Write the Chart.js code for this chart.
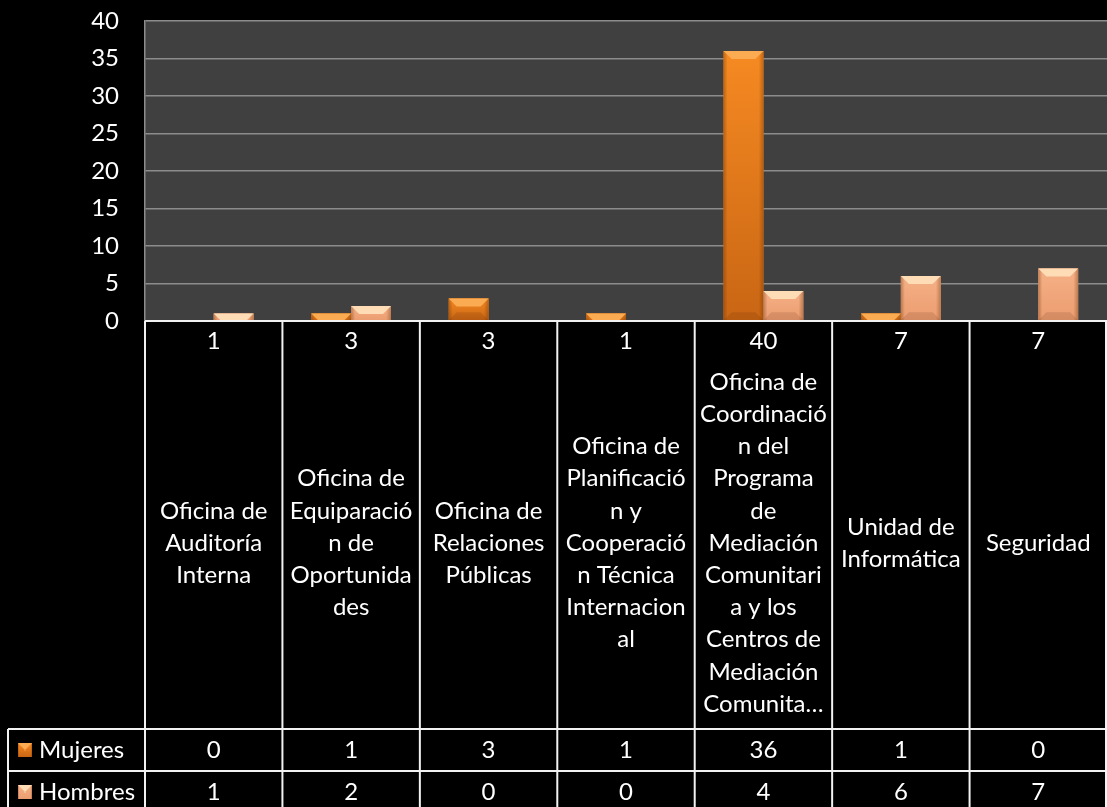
<!DOCTYPE html>
<html>
<head>
<meta charset="utf-8">
<script src="https://cdn.jsdelivr.net/npm/chart.js@4.4.1/dist/chart.umd.min.js"></script>
<style>
  html, body { margin: 0; padding: 0; background: #000; }
  #wrap { width: 1107px; height: 807px; }
</style>
</head>
<body>
<div id="wrap"><canvas id="myChart" width="1107" height="807"></canvas></div>
<script>
// categories as they wrap in the data table
var categorias = [
  ["Oficina de", "Auditoría", "Interna"],
  ["Oficina de", "Equiparació", "n de", "Oportunida", "des"],
  ["Oficina de", "Relaciones", "Públicas"],
  ["Oficina de", "Planificació", "n y", "Cooperació", "n Técnica", "Internacion", "al"],
  ["Oficina de", "Coordinació", "n del", "Programa", "de", "Mediación", "Comunitari", "a y los", "Centros de", "Mediación", "Comunita…"],
  ["Unidad de", "Informática"],
  ["Seguridad"]
];
var totales = [1, 3, 3, 1, 40, 7, 7];
var mujeres = [0, 1, 3, 1, 36, 1, 0];
var hombres = [1, 2, 0, 0, 4, 6, 7];
var series = ["Mujeres", "Hombres"];
var yMax = 40;
var yStep = 5;

var FONT = "Lato, 'Open Sans', sans-serif";
var FSIZE = 24;

var colores = {
  Mujeres: { base: '#e57a1e', top: '#f68a22', bottom: '#c96614', light: '#fbab52' },
  Hombres: { base: '#f3a77a', top: '#f6b086', bottom: '#eb9d70', light: '#fddcb6' }
};

function bevel(ctx, left, top, w, h, c) {
  if (h <= 0) return;
  var gv = ctx.createLinearGradient(0, top, 0, top + h);
  gv.addColorStop(0, c.top);
  gv.addColorStop(1, c.bottom);
  ctx.fillStyle = gv;
  ctx.fillRect(left, top, w, h);
  // side shading
  var g = ctx.createLinearGradient(left, 0, left + w, 0);
  g.addColorStop(0, 'rgba(90,40,0,0.35)');
  g.addColorStop(0.1, 'rgba(90,40,0,0)');
  g.addColorStop(0.88, 'rgba(90,40,0,0)');
  g.addColorStop(1, 'rgba(90,40,0,0.35)');
  ctx.fillStyle = g;
  ctx.fillRect(left, top, w, h);
  // top bevel
  var d = Math.min(8, h);
  ctx.beginPath();
  ctx.moveTo(left, top);
  ctx.lineTo(left + w, top);
  ctx.lineTo(left + w - d, top + d);
  ctx.lineTo(left + d, top + d);
  ctx.closePath();
  ctx.fillStyle = c.light;
  ctx.fill();
  // bottom bevel
  if (h > 16) {
    ctx.beginPath();
    ctx.moveTo(left, top + h);
    ctx.lineTo(left + w, top + h);
    ctx.lineTo(left + w - d, top + h - d);
    ctx.lineTo(left + d, top + h - d);
    ctx.closePath();
    ctx.fillStyle = 'rgba(60,20,0,0.12)';
    ctx.fill();
  }
}

var tablaPlugin = {
  id: 'tabla',
  beforeDraw: function(chart) {
    var ctx = chart.ctx, a = chart.chartArea;
    ctx.save();
    ctx.fillStyle = '#000';
    ctx.fillRect(0, 0, chart.width, chart.height);
    ctx.fillStyle = '#404040';
    ctx.fillRect(a.left, a.top, a.right - a.left, a.bottom - a.top);
    ctx.restore();
  },
  afterDatasetsDraw: function(chart) {
    var ctx = chart.ctx;
    ctx.save();
    chart.data.datasets.forEach(function(ds, di) {
      var meta = chart.getDatasetMeta(di);
      meta.data.forEach(function(el) {
        var p = el.getProps(['x', 'y', 'base', 'width'], true);
        bevel(ctx, p.x - p.width / 2, p.y, p.width, p.base - p.y, colores[ds.label]);
      });
    });
    ctx.restore();
  },
  afterDraw: function(chart) {
    var ctx = chart.ctx, a = chart.chartArea, x = chart.scales.x;
    var n = categorias.length;
    var cw = (a.right - a.left) / n;
    var top = a.bottom;
    var rowTot = 40, rowLab = 368, rowSer = 42;
    var yLab = top + rowTot;
    var ySer1 = yLab + rowLab;
    var ySer2 = ySer1 + rowSer;
    var yEnd = ySer2 + rowSer;
    var leftT = 8;

    ctx.save();
    ctx.fillStyle = '#fff';
    ctx.font = FSIZE + 'px ' + FONT;
    ctx.textAlign = 'center';
    ctx.textBaseline = 'middle';

    for (var i = 0; i < n; i++) {
      var cx = x.getPixelForValue(i);
      ctx.fillText(String(totales[i]), cx, top + rowTot / 2);
      var lines = categorias[i];
      var lh = 32.2;
      var mid = yLab + rowLab / 2 - 2;
      var y0 = mid - (lines.length - 1) * lh / 2;
      lines.forEach(function(t, k) { ctx.fillText(t, cx, y0 + k * lh); });
      ctx.fillText(String(mujeres[i]), cx, ySer1 + rowSer / 2);
      ctx.fillText(String(hombres[i]), cx, ySer2 + rowSer / 2);
    }

    // series labels with legend keys
    [ySer1, ySer2].forEach(function(yy, k) {
      var c = colores[series[k]];
      bevel(ctx, 18, yy + rowSer / 2 - 7, 14, 14, c);
      ctx.fillStyle = '#fff';
      ctx.textAlign = 'left';
      ctx.fillText(series[k], 39, yy + rowSer / 2);
    });

    // grid lines of table
    ctx.strokeStyle = '#f2f2f2';
    ctx.lineWidth = 2;
    ctx.beginPath();
    ctx.moveTo(a.left, top); ctx.lineTo(a.right, top);
    ctx.moveTo(leftT, ySer1); ctx.lineTo(a.right, ySer1);
    ctx.moveTo(leftT, ySer2); ctx.lineTo(a.right, ySer2);
    ctx.moveTo(leftT, ySer1); ctx.lineTo(leftT, yEnd);
    for (var j = 0; j <= n; j++) {
      var vx = a.left + j * cw;
      if (j === n) vx -= 1;
      ctx.moveTo(vx, top); ctx.lineTo(vx, yEnd);
    }
    ctx.stroke();
    ctx.restore();
  }
};

var chartdata = {
  labels: categorias,
  datasets: [
    { label: series[0], data: mujeres, backgroundColor: colores.Mujeres.base },
    { label: series[1], data: hombres, backgroundColor: colores.Hombres.base }
  ]
};

var ctx = document.getElementById('myChart').getContext('2d');
var myBarChart = new Chart(ctx, {
  type: 'bar',
  data: chartdata,
  plugins: [tablaPlugin],
  options: {
    responsive: false,
    devicePixelRatio: 1,
    animation: false,
    layout: { padding: { top: 21, right: 0, bottom: 486, left: 0 } },
    plugins: { legend: { display: false }, tooltip: { enabled: false } },
    datasets: { bar: { barPercentage: 1, categoryPercentage: 0.58 } },
    scales: {
      x: { display: false },
      y: {
        min: 0, max: yMax,
        ticks: { stepSize: yStep, color: '#fff', font: { family: FONT, size: FSIZE }, padding: 26 },
        grid: { color: '#8c8c8c', lineWidth: 1.5, drawTicks: false },
        border: { color: '#8c8c8c', width: 1.5 },
        afterFit: function(s) { s.width = 145; s.paddingTop = 0; s.paddingBottom = 0; }
      }
    }
  }
});
</script>
</body>
</html>
